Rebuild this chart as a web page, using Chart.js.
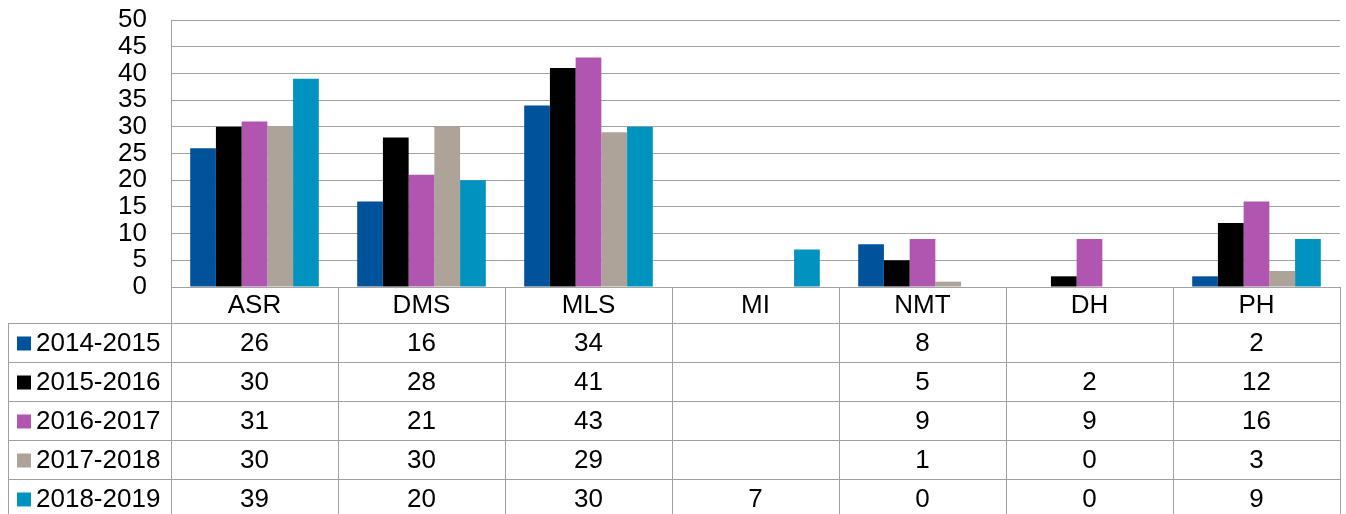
<!DOCTYPE html>
<html>
<head>
    <title>Chart</title>
    <script src="https://cdn.jsdelivr.net/npm/chart.js"></script>
    <style>
        body { margin: 0; background: #fff; }
        #wrap { width: 1346px; height: 514px; }
    </style>
</head>
<body>
    <div id="wrap"><canvas id="barChart"></canvas></div>

    <script>
        var categories = ["ASR", "DMS", "MLS", "MI", "NMT", "DH", "PH"];
        var seriesNames = ["2014-2015", "2015-2016", "2016-2017", "2017-2018", "2018-2019"];
        var v2014 = [26, 16, 34, null, 8, null, 2];
        var v2015 = [30, 28, 41, null, 5, 2, 12];
        var v2016 = [31, 21, 43, null, 9, 9, 16];
        var v2017 = [30, 30, 29, null, 1, 0, 3];
        var v2018 = [39, 20, 30, 7, 0, 0, 9];
        var yTicks = [0, 5, 10, 15, 20, 25, 30, 35, 40, 45, 50];

        var colors = ["#00529b", "#000000", "#b156b0", "#ada398", "#0093bf"];
        var allValues = [v2014, v2015, v2016, v2017, v2018];
        var FAMILY = "'Liberation Sans', Arial, sans-serif";
        var FONT = "26px " + FAMILY;
        var LINE = "#a0a0a0";

        // data table drawn under the plot, aligned to the x scale
        var tablePlugin = {
            id: "dataTable",
            afterDraw: function (chart) {
                var ctx = chart.ctx;
                var area = chart.chartArea;
                var xs = chart.scales.x;
                var n = categories.length;
                var colW = (area.right - area.left) / n;
                var headerH = 36, rowH = 39;
                var top = area.bottom;
                var rowsTop = top + headerH;
                var legendLeft = 8;

                ctx.save();
                ctx.strokeStyle = LINE;
                ctx.lineWidth = 1;
                ctx.beginPath();
                // vertical lines
                for (var i = 0; i <= n; i++) {
                    var x = Math.round(area.left + i * colW) + 0.5;
                    ctx.moveTo(x, top);
                    ctx.lineTo(x, chart.height);
                }
                ctx.moveTo(legendLeft + 0.5, rowsTop);
                ctx.lineTo(legendLeft + 0.5, chart.height);
                // horizontal lines
                for (var r = 0; r <= seriesNames.length; r++) {
                    var y = Math.round(rowsTop + r * rowH) + 0.5;
                    ctx.moveTo(legendLeft, y);
                    ctx.lineTo(area.right, y);
                }
                ctx.stroke();

                ctx.font = FONT;
                ctx.fillStyle = "#000";
                ctx.textBaseline = "middle";
                ctx.textAlign = "center";
                categories.forEach(function (c, i) {
                    ctx.fillText(c, xs.getPixelForValue(i), top + headerH / 2 + 1);
                });
                seriesNames.forEach(function (name, r) {
                    var cy = rowsTop + r * rowH + rowH / 2 + 1;
                    ctx.fillStyle = colors[r];
                    ctx.fillRect(17, cy - 7, 14, 14);
                    ctx.fillStyle = "#000";
                    ctx.textAlign = "left";
                    ctx.fillText(name, 36, cy);
                    ctx.textAlign = "center";
                    allValues[r].forEach(function (v, i) {
                        if (v !== null) ctx.fillText(String(v), xs.getPixelForValue(i), cy);
                    });
                });
                ctx.restore();
            }
        };

        var datasets = seriesNames.map(function (name, i) {
            return {
                label: name,
                data: allValues[i],
                backgroundColor: colors[i],
                borderWidth: 0,
                categoryPercentage: 0.77,
                barPercentage: 1.0
            };
        });

        var ctx = document.getElementById("barChart").getContext("2d");
        var chart = new Chart(ctx, {
            type: "bar",
            data: { labels: categories, datasets: datasets },
            options: {
                responsive: true,
                maintainAspectRatio: false,
                animation: false,
                layout: { padding: { left: 0, right: 6, top: 20, bottom: 227 } },
                plugins: {
                    legend: { display: false },
                    tooltip: { enabled: false }
                },
                scales: {
                    x: { display: false },
                    y: {
                        z: 1,
                        min: 0,
                        max: 50,
                        afterBuildTicks: function (scale) {
                            scale.ticks = yTicks.map(function (v) { return { value: v }; });
                        },
                        afterFit: function (scale) {
                            scale.width = 171;
                            scale.paddingTop = 0;
                            scale.paddingBottom = 0;
                        },
                        grid: { color: "rgba(70,70,70,0.5)", drawTicks: false },
                        border: { color: LINE },
                        ticks: {
                            autoSkip: false,
                            padding: 24,
                            color: "#000",
                            font: { family: FAMILY, size: 26 }
                        }
                    }
                }
            },
            plugins: [tablePlugin]
        });
    </script>
</body>
</html>
